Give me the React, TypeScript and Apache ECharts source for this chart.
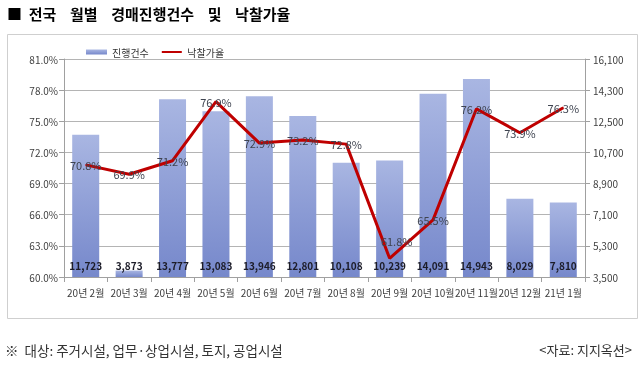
import React, { useEffect, useRef } from "react";
import * as echarts from "echarts";

const categories = ["20년 2월", "20년 3월", "20년 4월", "20년 5월", "20년 6월", "20년 7월", "20년 8월", "20년 9월", "20년 10월", "20년 11월", "20년 12월", "21년 1월"];
const caseCounts = [11723, 3873, 13777, 13083, 13946, 12801, 10108, 10239, 14091, 14943, 8029, 7810];
const saleRates = [70.8, 69.9, 71.2, 76.9, 72.9, 73.2, 72.8, 61.8, 65.5, 76.2, 73.9, 76.3];
const seriesNames = ["진행건수", "낙찰가율"];
const titleText = "■  전국    월별    경매진행건수    및    낙찰가율";
const footnoteText = "※  대상: 주거시설, 업무·상업시설, 토지, 공업시설";
const sourceText = "<자료: 지지옥션>";

const FONT = "'Noto Sans CJK KR', 'Noto Sans', sans-serif";
const LINE_ICON = "path://M0,0L0.01,0L0.01,0.01L0,0.01Z M0,1.6L20,1.6L20,3.4L0,3.4Z M19.99,4.99L20,4.99L20,5L19.99,5Z";

export default function App() {
  const ref = useRef<HTMLDivElement>(null);
  useEffect(() => {
    if (!ref.current) return;
    const chart = echarts.init(ref.current, null, { renderer: "svg" });
    const rateData = saleRates.map((v, i) =>
      i === 7 ? { value: v, label: { offset: [7, -17] } } : v
    );
    chart.setOption({
      animation: false,
      textStyle: { fontFamily: FONT },
      title: {
        text: titleText,
        left: 2,
        top: 1,
        textStyle: { fontSize: 15, fontWeight: "bold", color: "#000", fontFamily: FONT },
      },
      legend: {
        left: 81,
        top: 42,
        itemGap: 13,
        itemWidth: 21,
        itemHeight: 5,
        textStyle: { fontSize: 10, color: "#333", fontFamily: FONT },
        data: [
          { name: seriesNames[0], icon: "rect" },
          { name: seriesNames[1], icon: LINE_ICON },
        ],
      },
      grid: { left: 64, right: 54, top: 59, bottom: 88 },
      xAxis: {
        type: "category",
        data: categories,
        axisLine: { lineStyle: { color: "#a0a0a0" } },
        axisTick: { show: true, alignWithLabel: false, length: 5, lineStyle: { color: "#a0a0a0" } },
        axisLabel: { fontSize: 10, color: "#404040", margin: 10, interval: 0, fontFamily: FONT },
      },
      yAxis: [
        {
          type: "value",
          min: 60,
          max: 81,
          interval: 3,
          axisLine: { show: true, lineStyle: { color: "#a0a0a0" } },
          axisTick: { show: true, length: 5, lineStyle: { color: "#a0a0a0" } },
          axisLabel: { fontSize: 10, color: "#404040", margin: 6, formatter: (v: number) => v.toFixed(1) + "%", fontFamily: FONT },
          splitLine: { show: true, lineStyle: { color: "#b4b4b4" } },
        },
        {
          type: "value",
          min: 3500,
          max: 16100,
          interval: 1800,
          axisLine: { show: true, lineStyle: { color: "#a0a0a0" } },
          axisTick: { show: true, length: 5, lineStyle: { color: "#a0a0a0" } },
          axisLabel: {
            fontSize: 10,
            color: "#404040",
            margin: 8,
            formatter: (v: number) => v.toLocaleString("en-US"),
            fontFamily: FONT,
          },
          splitLine: { show: false },
        },
      ],
      series: [
        {
          name: seriesNames[0],
          type: "bar",
          yAxisIndex: 1,
          data: caseCounts,
          barWidth: 27,
          itemStyle: {
            color: new echarts.graphic.LinearGradient(0, 0, 0, 1, [
              { offset: 0, color: "#a9b6e2" },
              { offset: 1, color: "#7688cb" },
            ]),
          },
          label: {
            show: true,
            position: "insideBottom",
            distance: 7,
            fontSize: 10,
            fontWeight: "bold",
            color: "#1c1c28",
            fontFamily: FONT,
            formatter: (p: any) => Number(p.value).toLocaleString("en-US"),
          },
          z: 2,
        },
        {
          name: seriesNames[1],
          type: "line",
          yAxisIndex: 0,
          data: rateData,
          symbol: "circle",
          symbolSize: 1,
          showSymbol: true,
          lineStyle: { color: "#bf0000", width: 3 },
          itemStyle: { color: "#bf0000" },
          label: {
            show: true,
            position: "inside",
            fontSize: 11,
            color: "#3f4450",
            fontFamily: FONT,
            formatter: (p: any) => Number(p.value).toFixed(1) + "%",
          },
          z: 5,
        },
      ],
      graphic: [
        {
          type: "rect",
          shape: { x: 7.5, y: 34.5, width: 630, height: 284 },
          style: { fill: "none", stroke: "#cfcfcf", lineWidth: 1 },
          silent: true,
          z: -1,
        },
        {
          type: "text",
          left: 5,
          top: 343,
          style: { text: footnoteText, fontSize: 13.5, fill: "#333", fontFamily: FONT },
        },
        {
          type: "text",
          right: 7,
          top: 343,
          style: { text: sourceText, fontSize: 13, fill: "#333", fontFamily: FONT },
        },
      ],
    });
    return () => chart.dispose();
  }, []);
  return <div ref={ref} style={{ position: "fixed", left: 0, top: 0, width: 639, height: 365 }} />;
}
